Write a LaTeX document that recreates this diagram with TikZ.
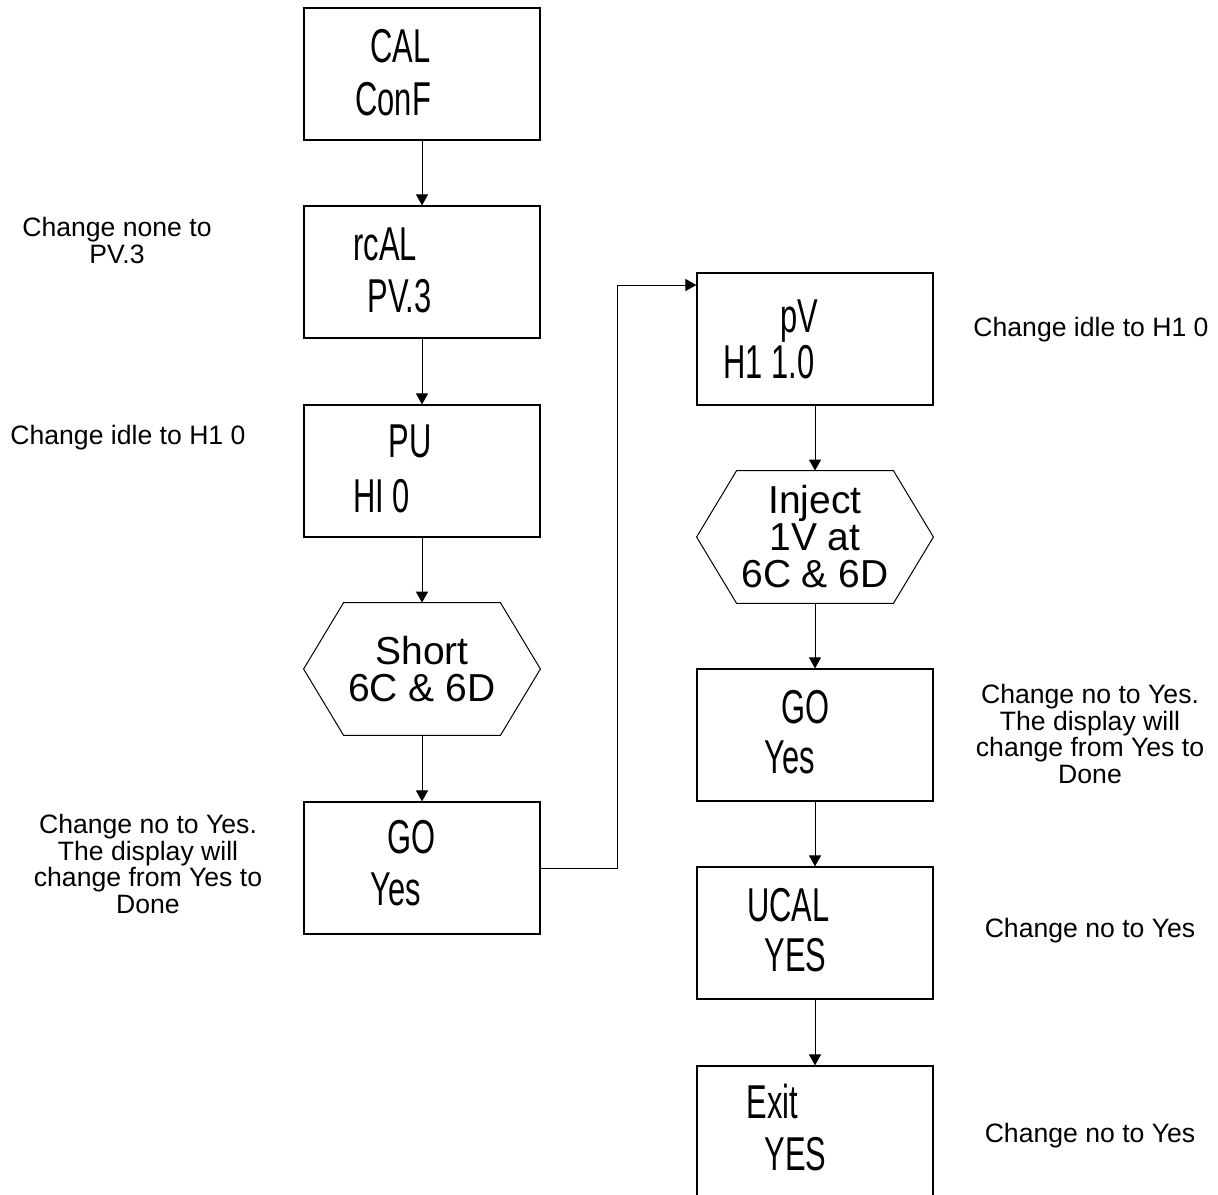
\documentclass[tikz,border=0pt]{standalone}
\usepackage{fontspec}
\setmainfont{Liberation Sans}
\newfontfamily\dispfont[FakeStretch=0.65]{Liberation Sans}
\usetikzlibrary{arrows.meta}
\begin{document}
\begin{tikzpicture}[x=0.5pt,y=-0.5pt,
  box/.style={draw, line width=0.6pt, minimum width=118pt, minimum height=66pt, inner sep=0pt},
  hexa/.style={minimum width=118pt, minimum height=66pt, inner sep=0pt, align=center,
    font=\fontsize{19.5}{18.5}\selectfont},
  disp/.style={anchor=base west, inner sep=0pt, font=\dispfont\fontsize{23.75}{28}\selectfont},
  lbl/.style={anchor=base, inner sep=0pt, align=center, font=\fontsize{13.3}{13.25}\selectfont},
  arr/.style={line width=0.5pt, -{Triangle[length=5.5pt,width=6pt]}}]
\useasboundingbox (0,0) rectangle (1218,1194);
% left column
\node[box] (b1) at (422,74) {};
\node[box] (b2) at (422,272) {};
\node[box] (b3) at (422,471) {};
\node[hexa] (h1) at (422,669) {Short\\6C \& 6D};
\node[box] (b4) at (422,868) {};
% right column
\node[box] (r1) at (815,339) {};
\node[hexa] (h2) at (815,537) {Inject\\1V at\\6C \& 6D};
\node[box] (r2) at (815,735) {};
\node[box] (r3) at (815,933) {};
\node[box] (r4) at (815,1132) {};
% hexagon outlines
\foreach \h in {h1,h2}{
  \draw[line width=0.5pt] ([xshift=20pt]\h.north west) -- ([xshift=-20pt]\h.north east) -- (\h.east)
    -- ([xshift=-20pt]\h.south east) -- ([xshift=20pt]\h.south west) -- (\h.west) -- cycle;
}
% box texts
\node[disp] (b1a) at (370,62) {CAL};
\node[disp] (b1b) at (355,115) {ConF};
\node[disp] (b2a) at (353,260) {rcAL};
\node[disp] (b2b) at (367,312) {PV.3};
\node[disp] (b3a) at (388,457) {PU};
\node[disp] (b3b) at (353,512) {HI 0};
\node[disp] (b4a) at (387,853) {GO};
\node[disp] (b4b) at (370,905) {Yes};
\node[disp] (r1a) at (780,332) {pV};
\node[disp] (r1b) at (723,378) {H1 1.0};
\node[disp] (r2a) at (781,723) {GO};
\node[disp] (r2b) at (764,773) {Yes};
\node[disp] (r3a) at (747,921) {UCAL};
\node[disp] (r3b) at (764,971) {YES};
\node[disp] (r4a) at (746,1118) {Exit};
\node[disp] (r4b) at (764,1170) {YES};
% side labels (anchor base = last line)
\node[lbl] (l1) at (117,263) {Change none to\\PV.3};
\node[lbl, anchor=base west] (l2) at (10,444) {Change idle to H1 0};
\node[lbl] (l3) at (148,913) {Change no to Yes.\\The display will\\change from Yes to\\Done};
\node[lbl] (m1) at (1091,336) {Change idle to H1 0};
\node[lbl] (m2) at (1090,783) {Change no to Yes.\\The display will\\change from Yes to\\Done};
\node[lbl] (m3) at (1090,937) {Change no to Yes};
\node[lbl] (m4) at (1090,1142) {Change no to Yes};
% connectors
\draw[arr] (b1) -- (b2);
\draw[arr] (b2) -- (b3);
\draw[arr] (b3) -- (h1);
\draw[arr] (h1) -- (b4);
\coordinate (elbow) at (617,285);
\draw[arr] (b4.east) -| (elbow) -- (elbow -| r1.west);
\draw[arr] (r1) -- (h2);
\draw[arr] (h2) -- (r2);
\draw[arr] (r2) -- (r3);
\draw[arr] (r3) -- (r4);
\end{tikzpicture}
\end{document}
